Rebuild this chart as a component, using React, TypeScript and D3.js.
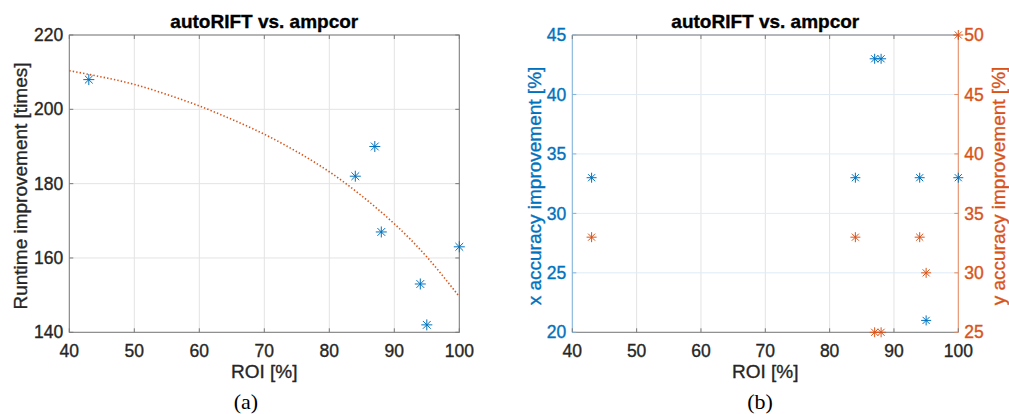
import React from "react";
import * as d3 from "d3";

const ROI = [43, 84, 87, 88, 94, 95, 100];
const runtime = [208, 182, 190, 167, 153, 142, 163];
const xAcc = [33, 33, 43, 43, 33, 21, 33];
const yAcc = [33, 33, 25, 25, 33, 30, 50];
const fitROI = [40, 45, 50, 55, 60, 65, 70, 75, 80, 85, 90, 95, 100];
const fitRuntime = [210.4, 208.7, 206.7, 204.0, 200.9, 197.3, 193.3, 188.6, 183.2, 176.7, 169.2, 160.3, 149.6];
const roiTicks = [40, 50, 60, 70, 80, 90, 100];
const runtimeTicks = [140, 160, 180, 200, 220];
const xAccTicks = [20, 25, 30, 35, 40, 45];
const yAccTicks = [25, 30, 35, 40, 45, 50];

const BLUE = "#0072BD";
const ORANGE = "#D95319";
const TXT = "#262626";
const FONT = "'Liberation Sans', Arial, Helvetica, sans-serif";
const SERIF = "'Liberation Serif', 'Times New Roman', serif";
const TICK_FS = 17.5;

function star(cx: number, cy: number, r = 5.5) {
  const d = r * 0.707;
  return `M${cx - r},${cy}H${cx + r}M${cx},${cy - r}V${cy + r}M${cx - d},${cy - d}L${cx + d},${cy + d}M${cx - d},${cy + d}L${cx + d},${cy - d}`;
}

const TOP = 35;
const BOTTOM = 332.3;

function T(props: any) {
  const { fill = TXT, children, ...rest } = props;
  return (
    <text fill={fill} stroke={fill} strokeWidth={0.35} {...rest}>
      {children}
    </text>
  );
}

function LeftPlot() {
  const x = d3.scaleLinear().domain([40, 100]).range([69.3, 459.3]);
  const y = d3.scaleLinear().domain([140, 220]).range([BOTTOM, TOP]);
  const [x0, x1] = x.range();
  const line = d3
    .line<number>()
    .x((_, i) => x(fitROI[i]))
    .y((d) => y(d))
    .curve(d3.curveNatural);
  const cx = (x0 + x1) / 2;
  return (
    <g>
      {roiTicks.map((t) => (
        <line key={"gx" + t} x1={x(t)} x2={x(t)} y1={TOP} y2={BOTTOM} stroke="#e3e3e3" />
      ))}
      {runtimeTicks.map((t) => (
        <line key={"gy" + t} x1={x0} x2={x1} y1={y(t)} y2={y(t)} stroke="#e3e3e3" />
      ))}
      <rect x={x0} y={TOP} width={x1 - x0} height={BOTTOM - TOP} fill="none" stroke="#7a7a7a" />
      {roiTicks.map((t) => (
        <g key={"tx" + t}>
          <line x1={x(t)} x2={x(t)} y1={BOTTOM} y2={BOTTOM - 4} stroke="#7a7a7a" />
          <line x1={x(t)} x2={x(t)} y1={TOP} y2={TOP + 4} stroke="#7a7a7a" />
          <T x={x(t)} y={356.5} textAnchor="middle" fontSize={TICK_FS}>{t}</T>
        </g>
      ))}
      {runtimeTicks.map((t) => (
        <g key={"ty" + t}>
          <line x1={x0} x2={x0 + 4} y1={y(t)} y2={y(t)} stroke="#7a7a7a" />
          <line x1={x1} x2={x1 - 4} y1={y(t)} y2={y(t)} stroke="#7a7a7a" />
          <T x={x0 - 6} y={y(t)} dy="0.35em" textAnchor="end" fontSize={TICK_FS}>{t}</T>
        </g>
      ))}
      <path d={line(fitRuntime) || ""} fill="none" stroke={ORANGE} strokeWidth={1.6} strokeDasharray="1.4,2.1" />
      {ROI.map((r, i) => (
        <path key={"m" + i} d={star(x(r), y(runtime[i]))} stroke={BLUE} strokeWidth={1} fill="none" />
      ))}
      <T x={cx} y={27.5} textAnchor="middle" fontSize={19} fontWeight="bold" fill="#000">autoRIFT vs. ampcor</T>
      <T x={cx} y={378} textAnchor="middle" fontSize={19}>ROI [%]</T>
      <T transform={`translate(27,186) rotate(-90)`} textAnchor="middle" fontSize={19}>Runtime improvement [times]</T>
      <text x={246} y={409} textAnchor="middle" fontSize={22} fill="#000" fontFamily={SERIF}>(a)</text>
    </g>
  );
}

function RightPlot() {
  const x = d3.scaleLinear().domain([40, 100]).range([572.3, 958.3]);
  const yl = d3.scaleLinear().domain([20, 45]).range([BOTTOM, TOP]);
  const yr = d3.scaleLinear().domain([25, 50]).range([BOTTOM, TOP]);
  const [x0, x1] = x.range();
  const cx = (x0 + x1) / 2;
  return (
    <g>
      {roiTicks.map((t) => (
        <line key={"gx" + t} x1={x(t)} x2={x(t)} y1={TOP} y2={BOTTOM} stroke="#e3e3e3" />
      ))}
      {xAccTicks.map((t) => (
        <line key={"gy" + t} x1={x0} x2={x1} y1={yl(t)} y2={yl(t)} stroke="#e0ecf6" />
      ))}
      <line x1={x0} x2={x1} y1={TOP} y2={TOP} stroke="#7a7a7a" />
      <line x1={x0} x2={x1} y1={BOTTOM} y2={BOTTOM} stroke="#7a7a7a" />
      <line x1={x0} x2={x0} y1={TOP} y2={BOTTOM} stroke="#7fb3dc" />
      <line x1={x1} x2={x1} y1={TOP} y2={BOTTOM} stroke="#e68a63" />
      {roiTicks.map((t) => (
        <g key={"tx" + t}>
          <line x1={x(t)} x2={x(t)} y1={BOTTOM} y2={BOTTOM - 4} stroke="#7a7a7a" />
          <line x1={x(t)} x2={x(t)} y1={TOP} y2={TOP + 4} stroke="#7a7a7a" />
          <T x={x(t)} y={356.5} textAnchor="middle" fontSize={TICK_FS}>{t}</T>
        </g>
      ))}
      {xAccTicks.map((t) => (
        <g key={"tl" + t}>
          <line x1={x0} x2={x0 + 4} y1={yl(t)} y2={yl(t)} stroke="#7fb3dc" />
          <T x={x0 - 6} y={yl(t)} dy="0.35em" textAnchor="end" fontSize={TICK_FS} fill={BLUE}>{t}</T>
        </g>
      ))}
      {yAccTicks.map((t) => (
        <g key={"tr" + t}>
          <line x1={x1} x2={x1 - 4} y1={yr(t)} y2={yr(t)} stroke="#e68a63" />
          <T x={x1 + 6} y={yr(t)} dy="0.35em" textAnchor="start" fontSize={TICK_FS} fill={ORANGE}>{t}</T>
        </g>
      ))}
      {ROI.map((r, i) => (
        <path key={"b" + i} d={star(x(r), yl(xAcc[i]), 5)} stroke={BLUE} strokeWidth={1} fill="none" />
      ))}
      {ROI.map((r, i) => (
        <path key={"o" + i} d={star(x(r), yr(yAcc[i]), 5)} stroke={ORANGE} strokeWidth={1} fill="none" />
      ))}
      <T x={cx} y={27.5} textAnchor="middle" fontSize={19} fontWeight="bold" fill="#000">autoRIFT vs. ampcor</T>
      <T x={cx} y={378} textAnchor="middle" fontSize={19}>ROI [%]</T>
      <T transform={`translate(541,186) rotate(-90)`} textAnchor="middle" fontSize={19} fill={BLUE}>x accuracy improvement [%]</T>
      <T transform={`translate(1005,186) rotate(-90)`} textAnchor="middle" fontSize={19} fill={ORANGE}>y accuracy improvement [%]</T>
      <text x={760} y={409} textAnchor="middle" fontSize={22} fill="#000" fontFamily={SERIF}>(b)</text>
    </g>
  );
}

export default function App() {
  return (
    <svg
      width={1009}
      height={414}
      style={{ position: "absolute", left: 0, top: 0, background: "#fff" }}
      fontFamily={FONT}
    >
      <rect width={1009} height={414} fill="#fff" />
      <LeftPlot />
      <RightPlot />
    </svg>
  );
}
